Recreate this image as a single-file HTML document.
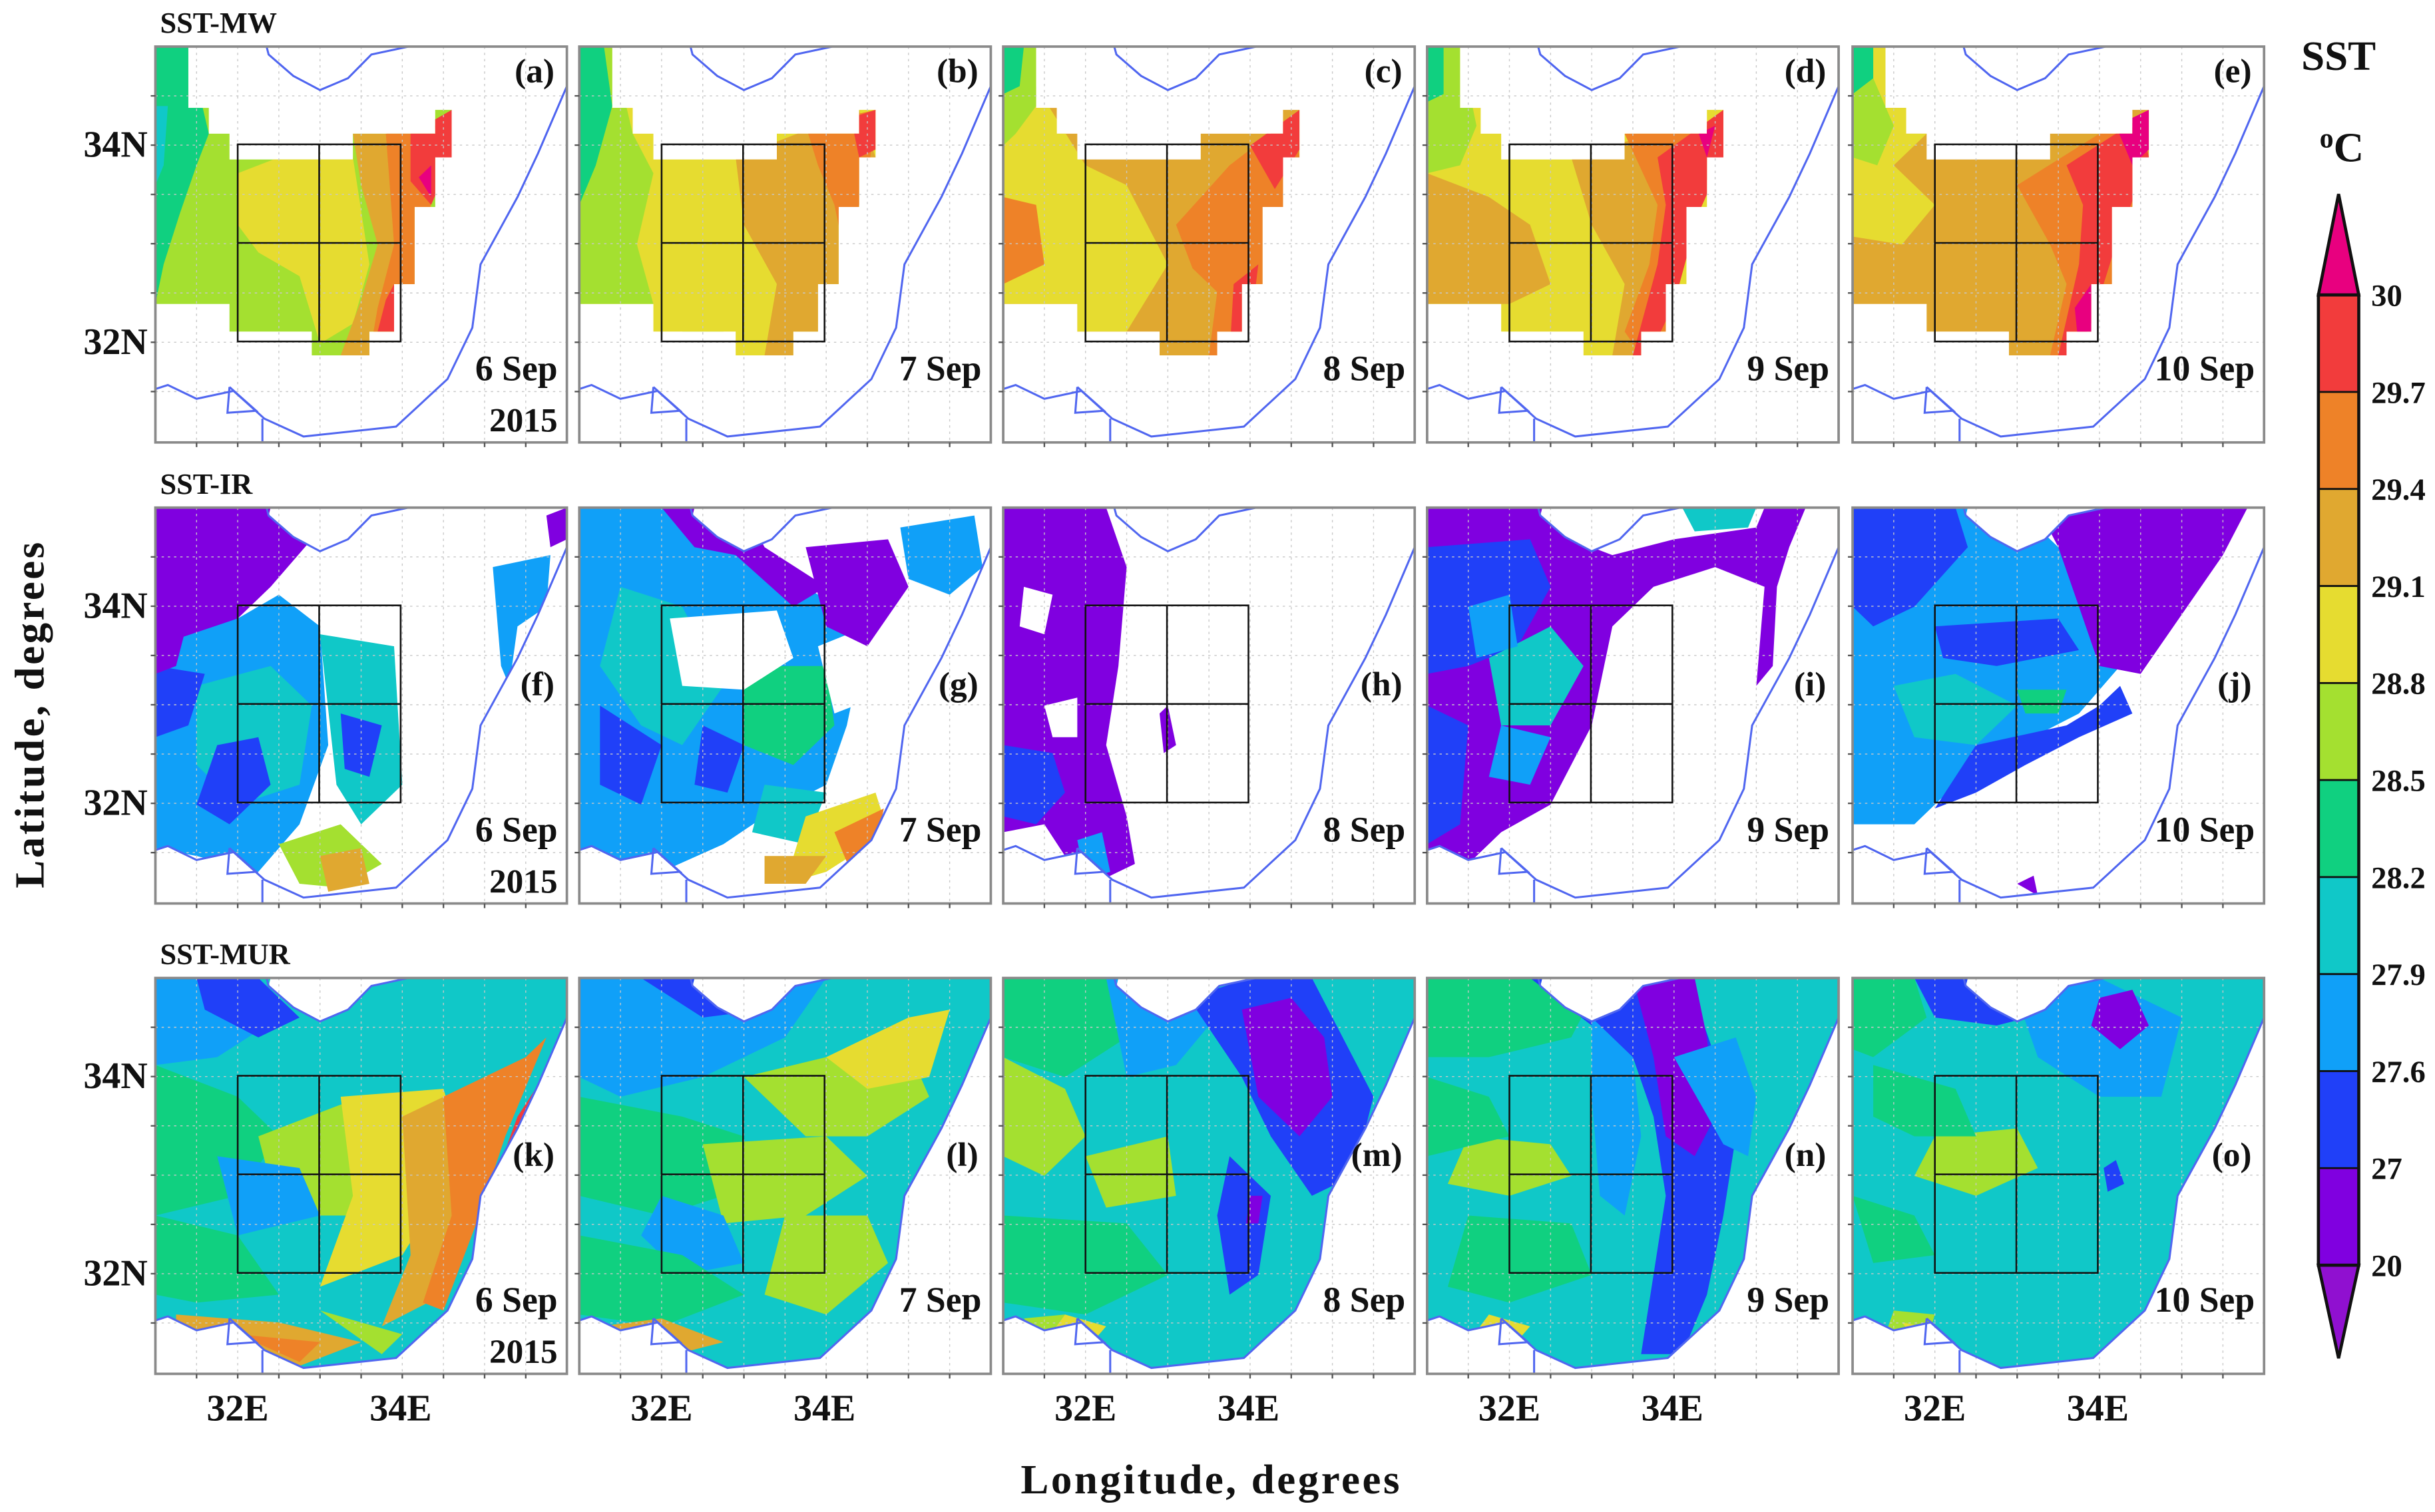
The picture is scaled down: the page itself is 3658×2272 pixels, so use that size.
<!DOCTYPE html>
<html><head><meta charset="utf-8">
<style>
html,body{margin:0;padding:0;background:#fff;}
svg{display:block;}
text{font-family:"Liberation Serif",serif;font-weight:bold;fill:#111;}
</style></head>
<body>
<svg id="fig" xmlns="http://www.w3.org/2000/svg" viewBox="0 0 1568 974" width="3658" height="2272">
<rect x="0" y="0" width="1568" height="974" fill="#fff"/>
<text x="103" y="21" font-size="19">SST-MW</text>
<text x="103" y="318" font-size="19">SST-IR</text>
<text x="103" y="621" font-size="19">SST-MUR</text>
<text x="780" y="962" font-size="27" text-anchor="middle" letter-spacing="1.5">Longitude,  degrees</text>
<text transform="translate(28,460) rotate(-90)" font-size="27" text-anchor="middle" letter-spacing="1.5">Latitude,  degrees</text>
<text x="1506" y="45" font-size="27" text-anchor="middle">SST</text>
<text x="1508" y="104" font-size="27" text-anchor="middle"><tspan font-size="18" dy="-9">o</tspan><tspan dy="9">C</tspan></text>
<g id="panels"></g>
<g id="cbar"></g>
</svg>
<script>
const NS="http://www.w3.org/2000/svg";
const COLORS=["#e8007f","#f23c3c","#ee8228","#e0a830","#e6dc30","#a4e030","#10d080","#10c8c8","#10a0f8","#2040f8","#8000e0","#ffffff"];
const cbTicks=["30","29.7","29.4","29.1","28.8","28.5","28.2","27.9","27.6","27","20"];
const cbColors=[1,2,3,4,5,6,7,8,9,10];
const colX=[100,373,646,919,1193];
const rowY=[30,327,630];
const PW=265, PH=255;
const panelLetters=["a","b","c","d","e","f","g","h","i","j","k","l","m","n","o"];
const dateLabels=["6 Sep","7 Sep","8 Sep","9 Sep","10 Sep"];
const mwRegion=[0,0,8,0,8,15.5,13,15.5,13,22,18,22,18,28.5,48,28.5,48,22,68,22,68,16,72,16,72,28,68,28,68,40.5,63,40.5,63,60,58,60,58,72,52,72,52,78,38,78,38,72,18,72,18,65,0,65];
const seaRegion=[0,0,28,0,27.5,2,33.5,7.4,40,11,46.8,8,52.5,2,61.5,0,100,0,100,10,93,27,88,38,79,55,77,71,71,84,58.5,96,36,98.5,26.5,94,19,87,10,89,3,85.5,0,86.5];
const coastRight=[100,0,100,10,93,27,88,38,79,55,77,71,71,84,58.5,96,36,98.5,26.5,94,19,87,10,89,3,85.5,0,86.5];
const coastBay=[27,0,27.5,2,33.5,7.4,40,11,46.8,8,52.5,2,61.5,0];
const coastLoop=[18,86,24.5,92,17.5,92.5,18,86];
const coastStem=[26,94,26,100];
const panelBase=[5,4,3,4,3, 11,11,11,11,11, 7,7,7,7,7];
const layers=[
[[6,[0,0,8,0,13,22,10,30,6,42,2,55,0,65]],[7,[0,15,3,15,2,30,0,35]],[4,[20,32,30,28,48,28,52,55,48,70,40,75,35,58,25,52,20,45]],[3,[48,22,68,22,66,58,56,78,45,78,50,64,54,50,50,35]],[2,[56,22,68,20,66,54,58,72,52,78,54,66,58,50,57,36]],[1,[62,22,72,16,72,28,67,40,62,34]],[1,[56,64,58,60,58,72,54,72]],[0,[64,33,67,30,67,38]]],
[[5,[0,0,8,0,13,22,18,32,14,50,18,65,0,65]],[6,[0,0,6,0,8,15,4,30,0,40]],[3,[38,28,68,16,72,28,66,60,58,72,52,78,45,78,48,60,40,45]],[2,[55,20,72,16,70,35,64,50,62,40,58,30]],[1,[66,18,72,16,72,26,68,28]],[5,[25,72,35,72,38,78,30,78]]],
[[4,[0,15,8,10,20,30,30,35,40,55,30,72,18,72,18,65,0,65]],[5,[0,0,8,0,8,15,3,22,0,25]],[6,[0,0,5,0,4,10,0,12]],[2,[0,38,8,40,10,55,0,60]],[2,[42,45,55,30,70,18,72,28,64,60,56,78,50,78,52,62,46,56]],[1,[60,25,72,16,72,26,66,36]],[1,[56,60,62,55,60,72,55,78]]],
[[5,[0,0,8,0,12,20,8,30,0,32]],[6,[0,0,4,0,4,12,0,14]],[3,[0,32,15,38,25,45,30,60,20,65,0,65]],[3,[35,28,55,22,64,30,60,55,52,78,45,78,48,60,40,45]],[2,[48,22,68,20,70,28,64,45,58,72,52,78,48,72,54,55,56,40]],[1,[56,28,72,16,72,28,66,42,60,65,54,78,50,78,56,55,58,40]],[0,[66,22,70,20,68,28]]],
[[4,[0,0,8,0,18,22,10,30,20,40,12,50,0,48]],[6,[0,0,5,0,5,10,0,12]],[5,[5,8,10,20,6,30,0,28,0,12]],[2,[40,35,60,22,70,20,66,60,56,78,48,78,52,60,48,50]],[1,[52,30,70,18,72,28,64,50,58,70,54,78,50,78,55,55,56,40]],[0,[64,20,72,16,72,26,68,30]],[0,[54,66,58,60,58,74,55,77]]],
[[10,[0,0,35,0,38,8,28,20,20,28,10,32,0,35]],[8,[0,35,20,28,30,22,40,30,42,60,35,80,25,92,10,88,0,86]],[7,[10,45,28,40,38,50,35,70,20,75,10,65]],[9,[0,40,12,42,8,55,0,58]],[9,[15,60,25,58,28,70,18,80,10,75]],[10,[0,25,8,28,5,40,0,42]],[7,[40,32,58,35,60,70,50,80,44,70]],[9,[45,52,55,55,52,68,46,66]],[5,[30,85,45,80,55,90,45,96,35,95]],[3,[40,88,50,86,52,95,42,97]],[8,[82,15,96,12,95,25,88,30,86,45,84,40]],[10,[95,2,100,0,100,8,96,10]]],
[[8,[0,0,30,0,40,12,55,20,70,30,65,55,60,70,45,78,35,85,20,92,0,86]],[10,[20,0,40,0,45,10,60,20,52,25,38,12,28,10]],[7,[10,20,25,25,35,45,25,60,15,55,5,40]],[6,[40,40,60,40,62,55,52,65,40,60]],[9,[5,50,20,60,15,75,5,70]],[9,[30,55,40,60,36,72,28,70]],[7,[45,70,60,72,55,85,42,82]],[4,[55,78,72,72,75,82,60,92,50,95]],[2,[62,82,74,76,72,86,66,92]],[3,[45,88,60,88,55,95,45,95]],[11,[22,28,48,26,52,38,40,46,25,45]],[11,[58,35,70,30,72,48,62,52]],[10,[55,10,75,8,80,20,70,35,60,30]],[8,[78,5,96,2,98,15,90,22,80,18]]],
[[10,[0,0,25,0,30,15,28,40,25,60,30,78,32,90,22,95,15,88,10,80,0,82]],[9,[0,60,12,62,15,72,8,80,0,78]],[8,[18,84,24,82,26,92,20,94]],[11,[5,20,12,22,10,32,4,30]],[11,[10,50,18,48,18,58,12,58]],[10,[38,52,40,50,42,60,39,62]]],
[[10,[0,0,35,0,40,10,45,12,60,8,80,5,82,0,92,0,88,10,85,20,84,40,80,45,82,20,70,15,55,20,45,30,40,55,30,75,18,82,10,90,0,88]],[9,[0,10,25,8,30,20,22,35,10,40,0,42]],[9,[0,50,10,55,8,80,0,85]],[7,[15,38,30,30,38,40,30,55,18,55]],[8,[10,25,20,22,22,35,12,38]],[8,[18,55,30,58,25,70,15,68]],[7,[62,0,80,0,78,5,65,6]]],
[[8,[0,0,40,0,50,10,60,35,65,40,55,52,40,60,25,70,15,80,0,80]],[10,[45,0,96,0,90,12,78,30,70,42,60,40,55,25,50,10]],[9,[0,0,25,0,28,10,15,25,5,30,0,25]],[9,[20,30,50,28,55,36,35,40,22,38]],[7,[10,45,25,42,40,50,30,60,15,58]],[9,[30,60,52,55,60,50,65,45,68,52,55,58,42,65,30,72,20,76]],[6,[40,46,52,46,50,52,42,52]],[10,[40,95,44,93,45,98]]],
[[8,[0,0,25,0,30,10,15,20,0,22]],[9,[10,0,25,0,35,10,25,15,12,8]],[6,[0,22,20,30,30,40,20,55,0,60]],[5,[25,40,50,30,65,35,60,50,50,60,30,60]],[4,[45,30,70,28,75,45,60,70,40,78,48,55]],[3,[60,35,80,25,85,40,75,60,70,80,55,88,62,70]],[2,[70,30,90,20,95,15,85,40,78,62,70,84,65,82,72,60]],[1,[88,35,93,27,88,45,82,52]],[6,[0,60,20,65,30,80,10,82,0,80]],[8,[15,45,35,48,40,60,20,65]],[3,[5,85,30,87,50,92,35,98,15,95,5,92]],[2,[20,90,40,92,35,97]],[5,[40,84,60,90,55,95]]],
[[8,[0,0,60,0,50,15,30,25,10,30,0,25]],[9,[15,0,40,0,45,8,30,10]],[6,[0,30,25,35,40,40,35,55,20,60,0,55]],[5,[40,25,60,20,80,18,85,30,70,40,55,40]],[4,[60,20,80,10,90,8,85,25,70,28]],[5,[30,42,60,40,70,50,55,60,35,62]],[8,[20,55,35,60,40,72,25,75,15,65]],[6,[0,65,25,70,40,80,20,88,0,85]],[5,[50,60,70,60,75,72,60,85,45,80]],[3,[5,88,20,86,35,92,20,96]],[2,[10,90,20,92,15,95]]],
[[6,[0,0,25,0,30,15,15,25,0,20]],[5,[0,20,15,28,20,40,10,50,0,45]],[8,[25,0,45,0,50,12,42,22,30,25]],[9,[45,5,60,0,75,0,80,10,90,30,85,50,75,55,65,40,58,25]],[10,[58,8,70,5,78,15,80,30,72,40,62,30]],[9,[55,45,65,55,62,75,55,80,52,60]],[10,[60,55,63,55,62,62,59,62]],[5,[20,45,40,40,42,55,25,58]],[6,[0,60,30,62,40,75,20,85,0,82]],[4,[15,85,25,88,20,94,10,92]],[2,[18,90,25,92,20,95]],[5,[5,86,15,85,10,92]]],
[[6,[0,0,25,0,40,5,35,15,15,20,0,20]],[9,[25,0,55,0,65,5,70,20,75,40,72,60,68,80,62,95,52,95,55,75,58,55,55,35,50,20,40,12]],[10,[50,0,65,0,68,15,70,35,65,45,58,40,55,20]],[8,[40,10,50,20,52,40,48,60,42,55,40,30]],[5,[10,40,30,42,35,50,20,55,5,52]],[6,[0,25,15,30,20,40,0,45]],[6,[10,60,35,62,40,75,20,82,5,78]],[8,[60,20,75,15,80,30,78,45,72,42]],[4,[15,85,25,88,20,94,10,92]]],
[[6,[0,0,15,0,18,10,5,20,0,18]],[9,[15,0,45,0,50,8,35,12,20,10]],[8,[40,5,60,0,80,10,75,30,60,30,45,20]],[10,[60,5,68,3,72,12,65,18,58,12]],[5,[20,40,40,38,45,48,30,55,15,50]],[6,[5,22,25,28,30,40,15,40,5,35]],[9,[61,48,64,46,66,52,62,54]],[6,[0,55,15,60,20,70,5,72]],[5,[10,84,20,85,18,92,8,90]],[4,[12,87,17,88,15,91]]]
];
function mk(tag,attrs,parent){const e=document.createElementNS(NS,tag);for(const k in attrs)e.setAttribute(k,attrs[k]);parent.appendChild(e);return e;}
function pts(arr,x0,y0){let s=[];for(let i=0;i<arr.length;i+=2)s.push((x0+arr[i]*PW/100).toFixed(1)+","+(y0+arr[i+1]*PH/100).toFixed(1));return s.join(" ");}
const panelsG=document.getElementById("panels");
for(let r=0;r<3;r++){for(let c=0;c<5;c++){
 const idx=r*5+c, x0=colX[c], y0=rowY[r];
 const g=mk("g",{},panelsG);
 
 
 const cp=mk("clipPath",{id:"cp"+idx},g);
 mk("polygon",{points:pts(r===0?mwRegion:seaRegion,x0,y0)},cp);
 const fill=mk("g",{"clip-path":"url(#cp"+idx+")"},g);
 
 
 mk("rect",{x:x0,y:y0,width:PW,height:PH,fill:COLORS[panelBase[idx]]},fill);
 for(const L of layers[idx]){const p=mk("polygon",{points:pts(L[1],x0,y0),fill:COLORS[L[0]],"stroke-linejoin":"round"},fill);
  
  }
 for(let k=1;k<10;k++){
  mk("line",{x1:x0+k*PW/10,y1:y0,x2:x0+k*PW/10,y2:y0+PH,stroke:"#c8c8c8","stroke-width":0.6,"stroke-dasharray":"1.5,2.5"},g);}
 for(let k=1;k<8;k++){
  mk("line",{x1:x0,y1:y0+k*PH*0.1245,x2:x0+PW,y2:y0+k*PH*0.1245,stroke:"#c8c8c8","stroke-width":0.6,"stroke-dasharray":"1.5,2.5"},g);}
 for(const cl of [coastRight,coastBay,coastLoop,coastStem]){const pl=mk("polyline",{points:pts(cl,x0,y0),fill:"none",stroke:"#5066f0","stroke-width":1.3},g);
  
  }
 const bx=x0+0.2*PW, by=y0+0.247*PH, bw=0.396*PW, bh=0.498*PH;
 const box=mk("g",{stroke:"#111","stroke-width":1.1,fill:"none"},g);
 
 
 mk("rect",{x:bx,y:by,width:bw,height:bh},box);
 mk("line",{x1:bx+bw/2,y1:by,x2:bx+bw/2,y2:by+bh},box);
 mk("line",{x1:bx,y1:by+bh/2,x2:bx+bw,y2:by+bh/2},box);
 mk("rect",{x:x0,y:y0,width:PW,height:PH,fill:"none",stroke:"#8a8a8a","stroke-width":1.6},g);
 for(let k=1;k<10;k++) mk("line",{x1:x0+k*PW/10,y1:y0+PH,x2:x0+k*PW/10,y2:y0+PH+3,stroke:"#555","stroke-width":1},g);
 for(let k=1;k<8;k++) mk("line",{x1:x0-3,y1:y0+k*PH*0.1245,x2:x0,y2:y0+k*PH*0.1245,stroke:"#555","stroke-width":1},g);
 const lt=mk("text",{x:x0+PW-8,y:y0+(r===0?23:121),"font-size":22,"text-anchor":"end"},g);
 lt.textContent="("+panelLetters[idx]+")";
 
 
 const dt=mk("text",{x:x0+PW-6,y:y0+215,"font-size":23,"text-anchor":"end"},g);
 dt.textContent=dateLabels[c];
 
 
 if(c===0){const yt=mk("text",{x:x0+PW-6,y:y0+248,"font-size":22,"text-anchor":"end"},g);
  yt.textContent="2015";
  
  
  for(const [lab,fy] of [["34N",0.247],["32N",0.745]]){const t=mk("text",{x:x0-5,y:y0+fy*PH+8,"font-size":24,"text-anchor":"end"},g);
   t.textContent=lab;
   
   }}
 if(r===2){for(const [lab,fx] of [["32E",0.2],["34E",0.596]]){const t=mk("text",{x:x0+fx*PW,y:y0+PH+30,"font-size":24,"text-anchor":"middle"},g);
   t.textContent=lab;
   
   }}
}}
const cb=document.getElementById("cbar");


const cbx=1493, cbw=26, cbTop=190, cbBot=815, seg=(cbBot-cbTop)/cbColors.length;
mk("polygon",{points:`${cbx},${cbTop} ${cbx+cbw/2},125 ${cbx+cbw},${cbTop}`,fill:COLORS[0],stroke:"#111","stroke-width":2},cb);
mk("polygon",{points:`${cbx},${cbBot} ${cbx+cbw/2},875 ${cbx+cbw},${cbBot}`,fill:"#9010d0",stroke:"#111","stroke-width":2},cb);
cbColors.forEach((ci,i)=>{const s=mk("rect",{x:cbx,y:cbTop+i*seg,width:cbw,height:seg,fill:COLORS[ci],stroke:"#111","stroke-width":1.2},cb);
 
 });
mk("rect",{x:cbx,y:cbTop,width:cbw,height:cbBot-cbTop,fill:"none",stroke:"#111","stroke-width":2},cb);
cbTicks.forEach((t,i)=>{const e=mk("text",{x:cbx+cbw+8,y:cbTop+i*seg+7,"font-size":20,"font-family":"Liberation Sans, sans-serif"},cb);
 e.textContent=t;
 
 });
</script>
</body></html>
